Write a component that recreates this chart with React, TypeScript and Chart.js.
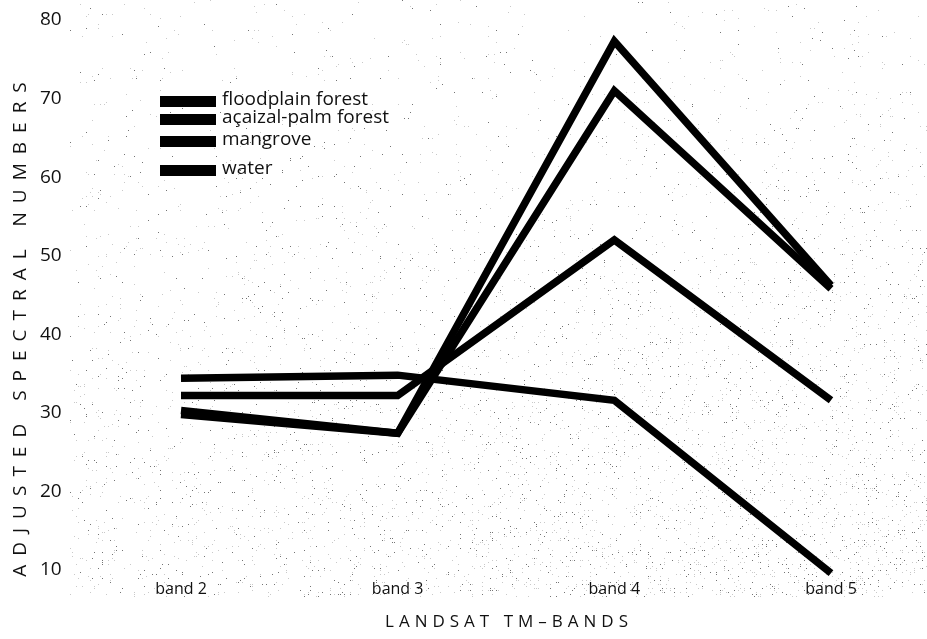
import React, { useEffect, useRef } from "react";
import { Chart, registerables } from "chart.js";

Chart.register(...registerables);

const bands = ["band 2", "band 3", "band 4", "band 5"];
const seriesNames = ["floodplain forest", "açaizal-palm forest", "mangrove", "water"];
const floodplain = [30.3, 27.4, 77.3, 46.2];
const acaizal = [29.8, 27.4, 71.0, 45.8];
const mangrove = [32.2, 32.2, 52.0, 31.6];
const water = [34.4, 34.8, 31.6, 9.6];
const yTicks = [10, 20, 30, 40, 50, 60, 70, 80];
const xTitle = "LANDSAT TM–BANDS";
const yTitle = "ADJUSTED SPECTRAL NUMBERS";

const W = 927;
const H = 639;

// deterministic hash for the scanned-paper stipple texture (decoration only)
const hash = (x: number, y: number) => {
  let h = (x * 374761393 + y * 668265263) | 0;
  h = (h ^ (h >>> 13)) * 1274126177;
  h = h ^ (h >>> 16);
  return ((h >>> 0) % 10000) / 10000;
};

const stipplePlugin = {
  id: "stipple",
  beforeDraw(chart: any) {
    const ctx = chart.ctx;
    ctx.save();
    ctx.fillStyle = "#fff";
    ctx.fillRect(0, 0, W, H);
    for (let y = 0; y < 598; y += 2) {
      for (let x = 70; x < W; x += 2) {
        const fy = y / 598;
        const fx = x / W;
        const d = 0.012 + 0.11 * Math.pow(fy, 1.3) * (0.35 + 0.65 * fx);
        const r = hash(x, y);
        if (r < d) {
          ctx.fillStyle = r < d * 0.35 ? "rgba(70,70,70,0.75)" : "rgba(165,165,165,0.6)";
          ctx.fillRect(x, y, 1, 1);
        }
      }
    }
    ctx.restore();
  },
};

const legendPlugin = {
  id: "customLegend",
  afterDatasetsDraw(chart: any) {
    const ctx = chart.ctx;
    const rows = [101, 119, 141, 170];
    ctx.save();
    chart.data.datasets.forEach((ds: any, i: number) => {
      const y = rows[i];
      ctx.fillStyle = "#000";
      ctx.fillRect(160, y - 5, 56, 11);
      ctx.fillStyle = "#111";
      ctx.font = "19px 'Open Sans'";
      ctx.textBaseline = "middle";
      ctx.textAlign = "left";
      ctx.fillText(ds.label, 222, y - 1);
    });
    ctx.restore();
  },
};

const titlePlugin = {
  id: "axisTitles",
  afterDraw(chart: any) {
    const ctx = chart.ctx;
    const area = chart.chartArea;
    ctx.save();
    ctx.fillStyle = "#111";
    ctx.font = "17px 'Open Sans'";
    (ctx as any).letterSpacing = "5px";
    ctx.textAlign = "center";
    ctx.textBaseline = "middle";
    ctx.fillText(xTitle, (area.left + area.right) / 2 + 3, 622);
    (ctx as any).letterSpacing = "9px";
    ctx.font = "19px 'Open Sans'";
    ctx.translate(21, 325);
    ctx.rotate(-Math.PI / 2);
    ctx.fillText(yTitle, 0, 0);
    ctx.restore();
  },
};

export default function App() {
  const ref = useRef<HTMLCanvasElement | null>(null);
  useEffect(() => {
    document.body.style.margin = "0";
    const canvas = ref.current;
    if (!canvas) return;
    const mk = (label: string, data: number[]) => ({
      label,
      data,
      borderColor: "#000",
      backgroundColor: "#000",
      borderWidth: 7.5,
      pointRadius: 0,
      tension: 0,
      borderJoinStyle: "miter" as const,
      borderCapStyle: "butt" as const,
      clip: false as any,
    });
    const chart = new Chart(canvas, {
      type: "line",
      data: {
        labels: bands,
        datasets: [
          mk(seriesNames[0], floodplain),
          mk(seriesNames[1], acaizal),
          mk(seriesNames[2], mangrove),
          mk(seriesNames[3], water),
        ],
      },
      options: {
        animation: false,
        responsive: false,
        layout: { padding: { top: 20, right: 96, bottom: 0, left: 40 } },
        plugins: { legend: { display: false }, tooltip: { enabled: false } },
        scales: {
          x: {
            offset: false,
            grid: { display: false, drawTicks: false },
            border: { display: false },
            ticks: { color: "#111", font: { family: "'Open Sans'", size: 16 }, padding: 10, maxRotation: 0 },
            afterFit: (s: any) => {
              s.height = 69;
            },
          },
          y: {
            min: 10,
            max: 80,
            afterBuildTicks: (s: any) => {
              s.ticks = yTicks.map((v) => ({ value: v }));
            },
            grid: { display: false, drawTicks: false },
            border: { display: false },
            ticks: {
              color: "#111",
              font: { family: "'Open Sans'", size: 19 },
              padding: 0,
              crossAlign: "far",
            },
            afterFit: (s: any) => {
              s.width = 141;
            },
          },
        },
      },
      plugins: [stipplePlugin, legendPlugin, titlePlugin],
    });
    return () => chart.destroy();
  }, []);
  return (
    <div style={{ width: W, height: H, background: "#fff" }}>
      <canvas ref={ref} width={W} height={H} style={{ display: "block" }} />
    </div>
  );
}
